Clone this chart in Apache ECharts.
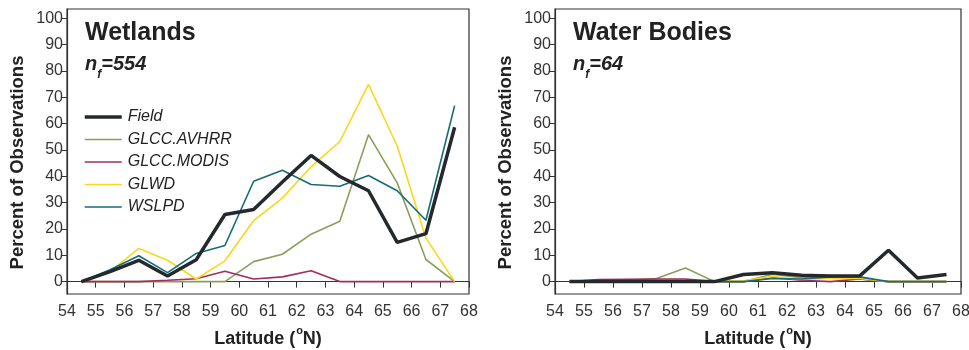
<!DOCTYPE html>
<html>
<head>
<meta charset="utf-8">
<script src="https://cdn.jsdelivr.net/npm/echarts@6/dist/echarts.min.js"></script>
<style>
  html, body { margin: 0; padding: 0; background: #fff; }
  #main { width: 969px; height: 350px; }
</style>
</head>
<body>
<div id="main"></div>
<script>
// latitude bin centres
var latitudes = [54.5, 55.5, 56.5, 57.5, 58.5, 59.5, 60.5, 61.5, 62.5, 63.5, 64.5, 65.5, 66.5, 67.5];
var yTicks = [0, 10, 20, 30, 40, 50, 60, 70, 80, 90, 100];
var seriesNames = ['Field', 'GLCC.AVHRR', 'GLCC.MODIS', 'GLWD', 'WSLPD'];

// Wetlands panel
var wetField = [0, 3.8, 8.1, 2.1, 8.3, 25.5, 27.4, 37.8, 47.9, 39.9, 34.5, 14.9, 18.2, 58.6];
var wetAvhrr = [0, 0, 0, 0, 0, 0, 7.6, 10.4, 18, 22.9, 55.8, 37.5, 8.4, 0];
var wetModis = [0, 0, 0, 0.5, 1.1, 3.9, 1, 1.8, 4.1, 0, 0, 0, 0, 0];
var wetGlwd = [0, 3.8, 12.6, 8.1, 1, 7.9, 23.2, 31.7, 43.6, 53.2, 74.9, 51.5, 16.5, 0];
var wetWslpd = [0, 4.5, 9.8, 3.4, 10.7, 13.7, 38.1, 42.3, 36.9, 36.2, 40.3, 34.5, 23.3, 66.8];

// Water Bodies panel
var watField = [0, 0, 0, 0, 0, 0, 2.7, 3.4, 2.4, 2.1, 2.1, 11.9, 1.4, 2.7];
var watAvhrr = [0, 0.3, 0.5, 1.2, 5.2, 0, 0, 2.8, 1.5, 1.3, 1, 0, 0, 0];
var watModis = [0, 0.8, 0.9, 1, 1, 0, 0, 1.5, 0.5, 0, 1, 0, 0, 0];
var watGlwd = [0, 0, 0, 0, 0, 0, 0.3, 2, 0.8, 1.2, 1.2, 0, 0, 0];
var watWslpd = [0, 0, 0, 0, 0, 0, 0, 1.2, 1, 1.8, 1.8, 0, 0, 0];

var colors = {
  'Field': '#23292c',
  'GLCC.AVHRR': '#8b9e5c',
  'GLCC.MODIS': '#a02e5e',
  'GLWD': '#f8d81a',
  'WSLPD': '#166b78'
};
var widths = { 'Field': 3.5, 'GLCC.AVHRR': 1.6, 'GLCC.MODIS': 1.6, 'GLWD': 1.6, 'WSLPD': 1.6 };

var axisColor = '#333';
var font = 'Liberation Sans, Arial, sans-serif';

function pairs(vals) {
  return latitudes.map(function (lat, i) { return [lat, vals[i]]; });
}

function makeX(idx) {
  return {
    type: 'value', gridIndex: idx, min: 54, max: 68, interval: 1,
    name: '{a|Latitude (}{o|o}{a|N)}',
    nameLocation: 'middle', nameGap: 31,
    nameTextStyle: {
      rich: {
        a: { fontFamily: font, fontSize: 18, fontWeight: 'bold', color: '#222', verticalAlign: 'bottom' },
        o: { fontFamily: font, fontSize: 11, fontWeight: 'bold', color: '#222', verticalAlign: 'bottom', padding: [0, 0, 12, 1] }
      }
    },
    axisLine: { show: true, lineStyle: { color: axisColor, width: 1.2 } },
    axisTick: { show: true, inside: false, length: 6, lineStyle: { color: axisColor } },
    axisLabel: { fontFamily: font, fontSize: 16, color: '#333', margin: 10 },
    splitLine: { show: false }
  };
}

function makeY(idx) {
  return {
    type: 'value', gridIndex: idx, min: -4.7, max: 103.5,
    name: 'Percent of Observations',
    nameLocation: 'middle', nameGap: 40,
    nameTextStyle: { fontFamily: font, fontSize: 18.5, fontWeight: 'bold', color: '#222', padding: [0, 22, 0, 0] },
    axisLine: { show: true, lineStyle: { color: axisColor, width: 1.2 } },
    axisTick: { show: true, length: 5, customValues: yTicks, lineStyle: { color: axisColor } },
    axisLabel: { fontFamily: font, fontSize: 16, color: '#333', margin: 4, customValues: yTicks },
    splitLine: { show: false }
  };
}

var panels = [
  [wetField, wetAvhrr, wetModis, wetGlwd, wetWslpd],
  [watField, watAvhrr, watModis, watGlwd, watWslpd]
];

var series = [];
panels.forEach(function (panel, p) {
  panel.forEach(function (vals, k) {
    var name = seriesNames[k];
    series.push({
      name: name,
      type: 'line',
      xAxisIndex: p, yAxisIndex: p,
      data: pairs(vals),
      symbol: 'none',
      z: name === 'Field' ? 3 : 2,
      lineStyle: { color: colors[name], width: widths[name] },
      itemStyle: { color: colors[name] }
    });
  });
});

var subRich = {
  n: { fontFamily: font, fontSize: 20, fontWeight: 'bold', fontStyle: 'italic', color: '#222', verticalAlign: 'top' },
  s: { fontFamily: font, fontSize: 12, fontWeight: 'bold', fontStyle: 'italic', color: '#222', verticalAlign: 'top', padding: [15, 0, 0, 0] }
};

var chart = echarts.init(document.getElementById('main'), null, { renderer: 'canvas' });
var option = {
  backgroundColor: '#fff',
  animation: false,
  title: [
    { text: 'Wetlands', left: 80, top: 16, textStyle: { fontFamily: font, fontSize: 25, fontWeight: 'bold', color: '#222' } },
    { text: '{n|n}{s|f}{n|=554}', left: 80, top: 49, textStyle: { rich: subRich } },
    { text: 'Water Bodies', left: 568, top: 16, textStyle: { fontFamily: font, fontSize: 25, fontWeight: 'bold', color: '#222' } },
    { text: '{n|n}{s|f}{n|=64}', left: 568, top: 49, textStyle: { rich: subRich } }
  ],
  legend: {
    data: seriesNames,
    orient: 'vertical',
    left: 78, top: 104,
    itemWidth: 37, itemHeight: 14, itemGap: 6.5,
    itemStyle: { opacity: 0 },
    lineStyle: { width: 'inherit' },
    textStyle: { fontFamily: font, fontSize: 16, fontStyle: 'italic', color: '#222', padding: [0, 0, 0, 1] },
    selectedMode: false
  },
  grid: [
    { left: 67, right: 500, top: 9, bottom: 56, outerBoundsMode: 'none', show: true, borderColor: axisColor, borderWidth: 1.2 },
    { left: 555, right: 8, top: 9, bottom: 56, outerBoundsMode: 'none', show: true, borderColor: axisColor, borderWidth: 1.2 }
  ],
  xAxis: [makeX(0), makeX(1)],
  yAxis: [makeY(0), makeY(1)],
  series: series
};
chart.setOption(option);
</script>
</body>
</html>
